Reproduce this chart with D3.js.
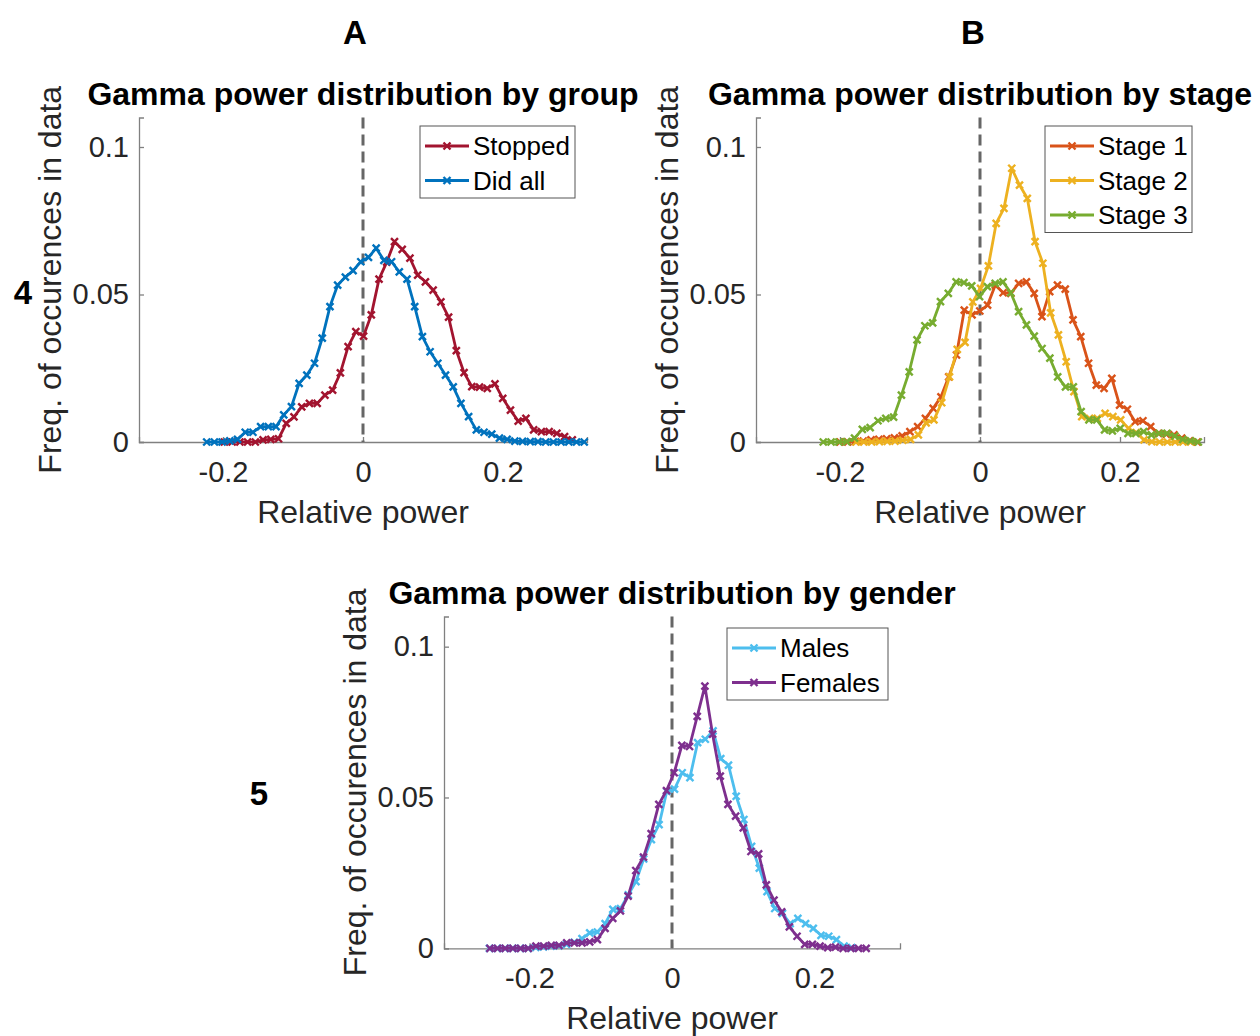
<!DOCTYPE html>
<html>
<head>
<meta charset="utf-8">
<script src="https://cdn.jsdelivr.net/npm/d3@7"></script>
<style>
  body { margin: 0; background: #fff; }
  svg { display: block; font-family: "Liberation Sans", Arial, sans-serif; }
</style>
</head>
<body>
<svg id="chart" width="1260" height="1036"></svg>
<script>
// axis ticks shared by the three panels
const xTicks = [-0.2, 0, 0.2];
const xTickLabels = ['-0.2', '0', '0.2'];
const yTicks = [0, 0.05, 0.1];
const yTickLabels = ['0', '0.05', '0.1'];

// first and last bin centre of each histogram, then the frequencies per bin
const stoppedRange = [-0.198, 0.299];
const stoppedFreq = [0, 0, 0, 0, 0, 0.0007, 0.0009, 0.0011, 0.0063, 0.0085,
  0.0119, 0.0131, 0.0131, 0.0159, 0.0176, 0.0234, 0.0323, 0.0374, 0.0359, 0.0431,
  0.0552, 0.0610, 0.0679, 0.0653, 0.0623, 0.0566, 0.0543, 0.0515, 0.0475, 0.0423,
  0.0310, 0.0235, 0.0188, 0.0186, 0.0182, 0.0197, 0.0148, 0.0108, 0.0071, 0.0080,
  0.0041, 0.0035, 0.0035, 0.0029, 0.0018, 0.0007];

const didAllRange = [-0.2233, 0.316];
const didAllFreq = [0, 0, 0, 0.0004, 0.0009, 0.0033, 0.0033, 0.0052, 0.0052, 0.0052,
  0.0092, 0.0120, 0.0199, 0.0227, 0.0267, 0.0352, 0.0459, 0.0532, 0.0559, 0.0581,
  0.0611, 0.0626, 0.0657, 0.0616, 0.0611, 0.0577, 0.0552, 0.0459, 0.0357, 0.0306,
  0.0267, 0.0227, 0.0187, 0.0131, 0.0086, 0.0041, 0.0033, 0.0027, 0.0013, 0.0009,
  0.0003, 0.0002, 0.0001, 0.0001, 0, 0, 0, 0, 0, 0];

const stage1Range = [-0.2, 0.3104];
const stage1Freq = [0, 0, 0.0002, 0.0003, 0.0007, 0.0009, 0.0011, 0.0014, 0.0021, 0.0035,
  0.0052, 0.0080, 0.0114, 0.0153, 0.0221, 0.0295, 0.0447, 0.0431, 0.0444, 0.0464,
  0.0532, 0.0506, 0.0504, 0.0538, 0.0543, 0.0504, 0.0425, 0.0510, 0.0532, 0.0518,
  0.0414, 0.0357, 0.0267, 0.0193, 0.0182, 0.0216, 0.0125, 0.0111, 0.0069, 0.0072,
  0.0052, 0.0029, 0.0027, 0.0024, 0.0013, 0.0004, 0];

const stage2Range = [-0.177, 0.301];
const stage2Freq = [0, 0, 0, 0.0001, 0.0002, 0.0003, 0.0006, 0.0009, 0.0024, 0.0065,
  0.0075, 0.0133, 0.0221, 0.0314, 0.0338, 0.0475, 0.0521, 0.0597, 0.0741, 0.0792,
  0.0928, 0.0871, 0.0826, 0.0679, 0.0606, 0.0438, 0.0363, 0.0272, 0.0171, 0.0086,
  0.0080, 0.0080, 0.0097, 0.0086, 0.0075, 0.0046, 0.0032, 0.0007, 0.0001, 0,
  0, 0, 0, 0];

const stage3Range = [-0.2239, 0.3119];
const stage3Freq = [0, 0, 0, 0.0001, 0.0013, 0.0043, 0.0049, 0.0072, 0.0080, 0.0084,
  0.0159, 0.0238, 0.0346, 0.0394, 0.0404, 0.0476, 0.0504, 0.0543, 0.0540, 0.0529,
  0.0493, 0.0527, 0.0538, 0.0543, 0.0506, 0.0442, 0.0397, 0.0359, 0.0317, 0.0284,
  0.0221, 0.0187, 0.0187, 0.0103, 0.0075, 0.0075, 0.0041, 0.0038, 0.0046, 0.0029,
  0.0029, 0.0035, 0.0024, 0.0029, 0.0029, 0.0020, 0.0009, 0.0004, 0];

const malesRange = [-0.2562, 0.2524];
const malesFreq = [0, 0, 0, 0, 0, 0, 0.0003, 0.0005, 0.0007, 0.0008,
  0.0013, 0.0020, 0.0032, 0.0051, 0.0054, 0.0082, 0.0129, 0.0132, 0.0177, 0.0221,
  0.0296, 0.0360, 0.0410, 0.0520, 0.0528, 0.0582, 0.0566, 0.0682, 0.0693, 0.0721,
  0.0629, 0.0607, 0.0504, 0.0427, 0.0338, 0.0266, 0.0188, 0.0132, 0.0116, 0.0082,
  0.0099, 0.0082, 0.0066, 0.0043, 0.0040, 0.0029, 0.0007, 0.0002];

const femalesRange = [-0.2556, 0.2725];
const femalesFreq = [0, 0, 0, 0, 0, 0, 0.0007, 0.0007, 0.0010, 0.0010,
  0.0018, 0.0018, 0.0018, 0.0021, 0.0029, 0.0066, 0.0099, 0.0124, 0.0173, 0.0258,
  0.0302, 0.0380, 0.0477, 0.0523, 0.0582, 0.0673, 0.0669, 0.0769, 0.0869, 0.0710,
  0.0571, 0.0477, 0.0438, 0.0399, 0.0321, 0.0313, 0.0210, 0.0160, 0.0121, 0.0071,
  0.0040, 0.0013, 0.0013, 0.0007, 0.0002, 0.0004, 0, 0, 0, 0];

// MATLAB default line colours
const RED = '#A2142F', BLUE = '#0072BD', ORANGE = '#D95319', YELLOW = '#EDB120',
      GREEN = '#77AC30', CYAN = '#4DBEEE', PURPLE = '#7E2F8E';

const panels = [
  { title: 'Gamma power distribution by group', left: 139, right: 587, top: 117.5, bottom: 442,
    legend: { x: 420, y: 126, w: 155 },
    series: [
      { name: 'Stopped', range: stoppedRange, freq: stoppedFreq, color: RED },
      { name: 'Did all', range: didAllRange, freq: didAllFreq, color: BLUE }
    ] },
  { title: 'Gamma power distribution by stage', left: 756, right: 1204, top: 117.5, bottom: 442,
    legend: { x: 1045, y: 126, w: 147 },
    series: [
      { name: 'Stage 1', range: stage1Range, freq: stage1Freq, color: ORANGE },
      { name: 'Stage 2', range: stage2Range, freq: stage2Freq, color: YELLOW },
      { name: 'Stage 3', range: stage3Range, freq: stage3Freq, color: GREEN }
    ] },
  { title: 'Gamma power distribution by gender', left: 444, right: 900, top: 616.5, bottom: 948.3,
    legend: { x: 727, y: 628, w: 161 },
    series: [
      { name: 'Males', range: malesRange, freq: malesFreq, color: CYAN },
      { name: 'Females', range: femalesRange, freq: femalesFreq, color: PURPLE }
    ] }
];

const svg = d3.select('#chart');
const AXIS_COL = '#262626';
const xMark = 'M-3.5,-3.5L3.5,3.5M-3.5,3.5L3.5,-3.5';

// panel letters
const letters = [['A', 355, 44], ['B', 973, 44], ['4', 23, 304], ['5', 259, 805]];
svg.selectAll('text.letter').data(letters).join('text')
  .attr('class', 'letter')
  .attr('x', d => d[1]).attr('y', d => d[2])
  .attr('text-anchor', 'middle')
  .attr('font-size', 33).attr('font-weight', 'bold')
  .attr('fill', '#000')
  .text(d => d[0]);

panels.forEach(p => {
  const x = d3.scaleLinear().domain([-0.32, 0.32]).range([p.left, p.right]);
  const y = d3.scaleLinear().domain([0, 0.11]).range([p.bottom, p.top]);
  const g = svg.append('g');

  // axes (box off, ticks inside)
  const xAxis = g.append('g').attr('transform', `translate(0,${p.bottom})`)
    .call(d3.axisBottom(x).tickValues(xTicks).tickSize(-5).tickPadding(14)
      .tickFormat((d, i) => xTickLabels[i]));
  const yAxis = g.append('g').attr('transform', `translate(${p.left},0)`)
    .call(d3.axisLeft(y).tickValues(yTicks).tickSize(-5).tickPadding(14)
      .tickFormat((d, i) => yTickLabels[i]));
  [xAxis, yAxis].forEach(a => {
    a.select('.domain').attr('stroke', '#808080').attr('stroke-width', 1.3);
    a.selectAll('.tick line').attr('stroke', '#808080').attr('stroke-width', 1.3);
    a.selectAll('.tick text').attr('fill', AXIS_COL).attr('font-size', 29)
      .attr('font-family', '"Liberation Sans", Arial, sans-serif');
  });
  xAxis.selectAll('.tick text').attr('dy', '0.71em').attr('y', 19);
  yAxis.selectAll('.tick text').attr('x', -10);

  // zero line
  g.append('line')
    .attr('x1', x(0)).attr('x2', x(0)).attr('y1', y(0.11)).attr('y2', y(0))
    .attr('stroke', '#666').attr('stroke-width', 3).attr('stroke-dasharray', '11,6');

  // series
  const line = d3.line().x(d => x(d[0])).y(d => y(d[1]));
  p.series.forEach(s => {
    const n = s.freq.length;
    const step = (s.range[1] - s.range[0]) / (n - 1);
    const pts = s.freq.map((v, i) => [s.range[0] + i * step, v]);
    g.append('path').datum(pts)
      .attr('d', line).attr('fill', 'none')
      .attr('stroke', s.color).attr('stroke-width', 2.8).attr('stroke-linejoin', 'round');
    g.selectAll(null).data(pts).join('path')
      .attr('transform', d => `translate(${x(d[0])},${y(d[1])})`)
      .attr('d', xMark).attr('stroke', s.color).attr('stroke-width', 2.4).attr('fill', 'none');
  });

  // title and labels
  g.append('text')
    .attr('x', (p.left + p.right) / 2).attr('y', p.top - 12.5)
    .attr('text-anchor', 'middle').attr('font-size', 32).attr('font-weight', 'bold')
    .attr('fill', '#000').text(p.title);
  g.append('text')
    .attr('x', (p.left + p.right) / 2).attr('y', p.bottom + 81)
    .attr('text-anchor', 'middle').attr('font-size', 32)
    .attr('fill', AXIS_COL).text('Relative power');
  g.append('text')
    .attr('transform', `translate(${p.left - 89},${(p.top + p.bottom) / 2}) rotate(-90)`)
    .attr('text-anchor', 'middle').attr('dominant-baseline', 'central').attr('font-size', 32)
    .attr('fill', AXIS_COL).text('Freq. of occurences in data');

  // legend
  const rowH = 34.5;
  const lg = g.append('g').attr('transform', `translate(${p.legend.x},${p.legend.y})`);
  lg.append('rect')
    .attr('width', p.legend.w).attr('height', p.series.length * rowH + 3)
    .attr('fill', '#fff').attr('stroke', '#555').attr('stroke-width', 1);
  const row = lg.selectAll('g.row').data(p.series).join('g')
    .attr('class', 'row')
    .attr('transform', (d, i) => `translate(0,${20 + i * rowH})`);
  row.append('line').attr('x1', 5).attr('x2', 49).attr('y1', 0).attr('y2', 0)
    .attr('stroke', d => d.color).attr('stroke-width', 2.8);
  row.append('path').attr('transform', 'translate(27,0)').attr('d', xMark)
    .attr('stroke', d => d.color).attr('stroke-width', 2.4).attr('fill', 'none');
  row.append('text').attr('x', 53).attr('y', 0).attr('dy', '0.35em')
    .attr('font-size', 26).attr('fill', '#000').text(d => d.name);
});
</script>
</body>
</html>
